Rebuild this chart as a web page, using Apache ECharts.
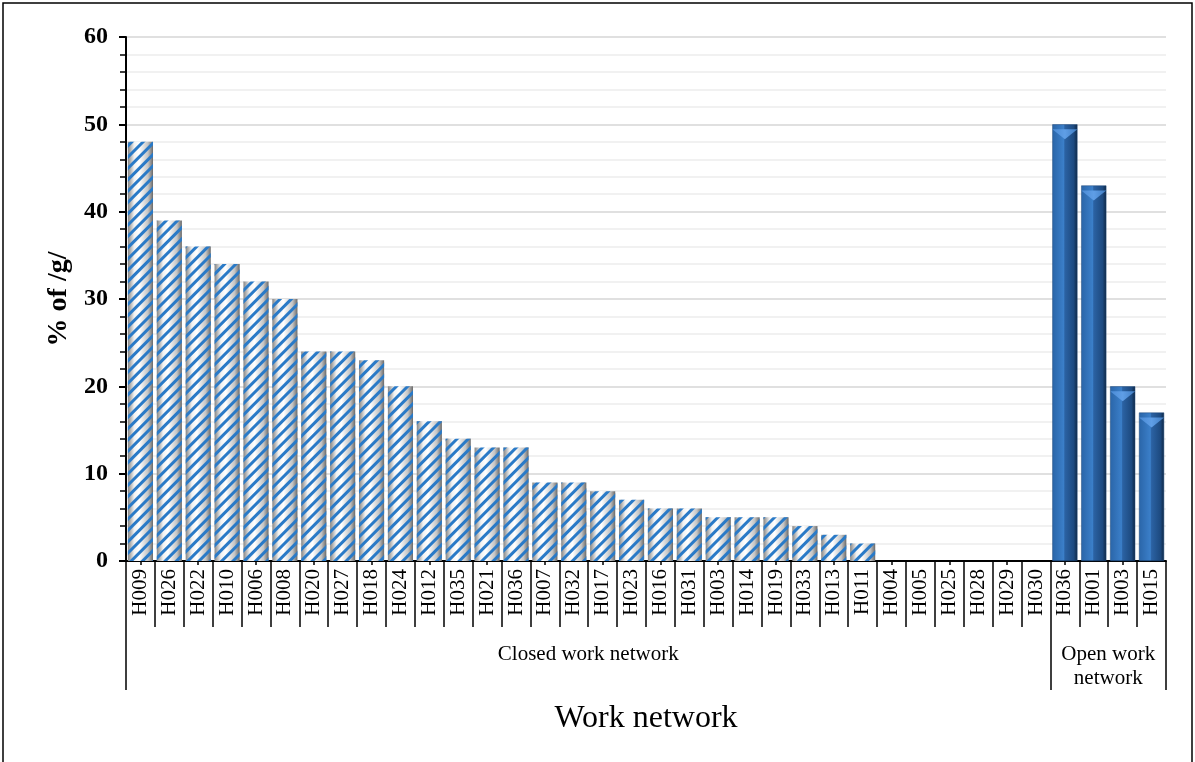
<!DOCTYPE html>
<html>
<head>
<meta charset="utf-8">
<script src="https://cdn.jsdelivr.net/npm/echarts@6/dist/echarts.min.js"></script>
<style>
  html, body { margin: 0; padding: 0; background: #fff; }
  #chart { width: 1195px; height: 762px; }
</style>
</head>
<body>
<div id="chart"></div>
<script>
// Work network categories and their share values (%)
const closedNames = ['H009','H026','H022','H010','H006','H008','H020','H027','H018','H024','H012','H035','H021','H036','H007','H032','H017','H023','H016','H031','H003','H014','H019','H033','H013','H011','H004','H005','H025','H028','H029','H030'];
const closedValues = [48,39,36,34,32,30,24,24,23,20,16,14,13,13,9,9,8,7,6,6,5,5,5,4,3,2,0,0,0,0,0,0];
const openNames = ['H036','H001','H003','H015'];
const openValues = [50,43,20,17];
const groupLabels = ['Closed work network', 'Open work\nnetwork'];
const yTicks = [0, 10, 20, 30, 40, 50, 60];

const categories = closedNames.concat(openNames);
const closedSeries = closedValues.concat(openNames.map(() => '-'));
const openSeries = closedNames.map(() => '-').concat(openValues);

const FONT = '"Liberation Serif", "Times New Roman", serif';
const nCat = categories.length;
const nClosed = closedNames.length;

const chart = echarts.init(document.getElementById('chart'), null, { renderer: 'canvas' });

// cylinder-like shading under the striped pattern
const stripeFill = {
  type: 'linear', x: 0, y: 0, x2: 1, y2: 0,
  colorStops: [
    { offset: 0, color: '#858585' },
    { offset: 0.25, color: '#f2f2f2' },
    { offset: 0.45, color: '#ffffff' },
    { offset: 0.8, color: '#c4c4c4' },
    { offset: 1, color: '#6a6a6a' }
  ]
};

// bevelled solid blue fill
const solidFill = {
  type: 'linear', x: 0, y: 0, x2: 1, y2: 0,
  colorStops: [
    { offset: 0, color: '#2a65a8' },
    { offset: 0.45, color: '#3b7fc9' },
    { offset: 0.5, color: '#2b62a3' },
    { offset: 0.85, color: '#1d4a80' },
    { offset: 1, color: '#0f2744' }
  ]
};

chart.setOption({
  animation: false,
  backgroundColor: '#ffffff',
  graphic: [{
    type: 'rect',
    shape: { x: 3, y: 3, width: 1189, height: 775 },
    style: { fill: 'none', stroke: '#000', lineWidth: 1.5 },
    silent: true,
    z: -1
  }],
  grid: { left: 126, right: 29, top: 37, bottom: 201 },
  xAxis: [{
    type: 'category',
    data: categories,
    boundaryGap: true,
    axisLine: { show: true, lineStyle: { color: '#000', width: 2 } },
    axisTick: { show: true, length: 66, lineStyle: { color: '#000', width: 1.5 } },
    axisLabel: {
      interval: 0, rotate: 90, margin: 8,
      fontFamily: FONT, fontSize: 21, color: '#000'
    },
    splitLine: { show: false },
    name: 'Work network',
    nameLocation: 'middle',
    nameGap: 142,
    nameTextStyle: { fontFamily: FONT, fontSize: 32, color: '#000' }
  }, {
    // group labels under the category names
    type: 'value',
    position: 'bottom',
    offset: 66,
    min: 0, max: nCat,
    gridIndex: 0,
    axisLine: { show: false },
    axisTick: {
      show: true, length: 63, inside: false,
      customValues: [0, nClosed, nCat],
      lineStyle: { color: '#000', width: 1.5 }
    },
    axisLabel: {
      show: true, margin: 15,
      customValues: [nClosed / 2, nClosed + openNames.length / 2],
      formatter: v => (v < nClosed ? groupLabels[0] : groupLabels[1]),
      fontFamily: FONT, fontSize: 21, color: '#000', lineHeight: 24
    },
    splitLine: { show: false }
  }, {
    // short centre marks under each category
    type: 'category',
    data: categories,
    position: 'bottom',
    gridIndex: 0,
    axisLine: { show: false },
    axisTick: { show: true, alignWithLabel: true, length: 4, lineStyle: { color: '#000', width: 1.5 } },
    axisLabel: { show: false },
    splitLine: { show: false }
  }],
  yAxis: {
    type: 'value',
    min: yTicks[0], max: yTicks[yTicks.length - 1], interval: 10,
    axisLine: { show: true, lineStyle: { color: '#000', width: 2 } },
    axisTick: { show: true, length: 7, lineStyle: { color: '#000', width: 2 } },
    minorTick: { show: true, splitNumber: 5, length: 6, lineStyle: { color: '#000', width: 1.5 } },
    splitLine: { show: true, lineStyle: { color: '#d6d6d6', width: 1.5 } },
    minorSplitLine: { show: true, lineStyle: { color: '#ededed', width: 1.5 } },
    axisLabel: {
      margin: 18, fontFamily: FONT, fontSize: 24, fontWeight: 'bold', color: '#000'
    },
    name: '% of /g/',
    nameLocation: 'middle',
    nameGap: 52,
    nameRotate: 90,
    nameTextStyle: { fontFamily: FONT, fontSize: 28, fontWeight: 'bold', color: '#000' }
  },
  series: [{
    name: 'Closed work network',
    type: 'bar',
    stack: 'net',
    data: closedSeries,
    barCategoryGap: '13%',
    itemStyle: {
      color: stripeFill,
      decal: {
        symbol: 'rect',
        symbolSize: 1,
        dashArrayX: [1, 0],
        dashArrayY: [3, 5],
        rotation: -Math.PI / 4,
        color: '#2a7ac7'
      }
    }
  }, {
    name: 'Open work network',
    type: 'bar',
    stack: 'net',
    data: openSeries,
    barCategoryGap: '13%',
    itemStyle: { color: solidFill, borderColor: '#1d4678', borderWidth: 0.5 }
  }, {
    name: 'Open cap',
    type: 'pictorialBar',
    data: openSeries,
    symbol: 'path://M0,0L20,0L10,8Z',
    symbolSize: [25, 10],
    symbolPosition: 'end',
    symbolOffset: [0, '50%'],
    itemStyle: {
      color: {
        type: 'linear', x: 0, y: 0, x2: 1, y2: 0,
        colorStops: [
          { offset: 0, color: '#4a8ad4' },
          { offset: 0.5, color: '#5f9ee6' },
          { offset: 1, color: '#3f7cc2' }
        ]
      }
    },
    z: 5
  }]
});
</script>
</body>
</html>
